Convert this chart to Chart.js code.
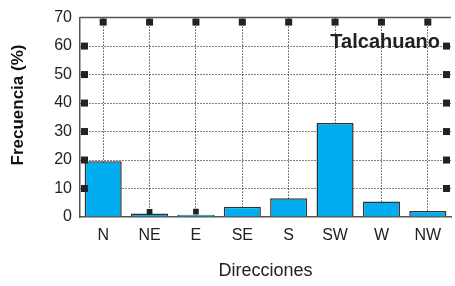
<!DOCTYPE html>
<html>
<head>
<meta charset="utf-8">
<script src="https://cdn.jsdelivr.net/npm/chart.js@4"></script>
<style>
  html, body { margin: 0; padding: 0; background: #fff; overflow: hidden; }
  #wrap { width: 455px; height: 286px; }
</style>
</head>
<body>
<div id="wrap"><canvas id="windChart"></canvas></div>
<script>
const directions = ['N', 'NE', 'E', 'SE', 'S', 'SW', 'W', 'NW'];
const frequency = [19.6, 1.2, 0.8, 3.6, 6.6, 33, 5.4, 2.1];
const topMarks = [null, 1.8, 1.9, null, null, null, null, null];
const yTicks = [0, 10, 20, 30, 40, 50, 60, 70];
const stationName = 'Talcahuano';
const yTitle = 'Frecuencia (%)';

const FONT = 'Liberation Sans, Arial, sans-serif';

// square markers on the frame, station label, y title
const framePlugin = {
    id: 'frame',
    afterDraw(chart) {
        const { ctx, chartArea: a, scales } = chart;
        ctx.save();
        ctx.strokeStyle = '#555';
        ctx.lineWidth = 1.5;
        ctx.beginPath();
        ctx.moveTo(a.left, a.top);
        ctx.lineTo(a.right, a.top);
        ctx.stroke();

        ctx.fillStyle = '#222';
        const s = 7;
        scales.x.ticks.forEach((t, i) => {
            const x = scales.x.getPixelForTick(i);
            ctx.fillRect(x - s / 2, a.top + 1, s, s);
        });
        yTicks.slice(1, -1).forEach(v => {
            const y = scales.y.getPixelForValue(v);
            ctx.fillRect(a.left + 1, y - s / 2, s, s);
            ctx.fillRect(a.right - s - 1, y - s / 2, s, s);
        });

        ctx.font = 'bold 20px ' + FONT;
        ctx.fillStyle = '#222';
        ctx.textAlign = 'right';
        ctx.textBaseline = 'alphabetic';
        ctx.fillText(stationName, a.right - 11, a.top + 30);

        ctx.translate(18, 105);
        ctx.rotate(-Math.PI / 2);
        ctx.textAlign = 'center';
        ctx.textBaseline = 'middle';
        ctx.font = 'bold 17px ' + FONT;
        ctx.fillStyle = '#111';
        ctx.fillText(yTitle, 0, 0);
        ctx.restore();
    }
};

const ctx = document.getElementById('windChart').getContext('2d');
const windChart = new Chart(ctx, {
    type: 'bar',
    data: {
        labels: directions,
        datasets: [{
            type: 'line',
            data: topMarks,
            showLine: false,
            pointStyle: 'rect',
            pointRadius: 4,
            backgroundColor: '#222',
            borderColor: '#222',
            borderWidth: 0
        }, {
            data: frequency,
            backgroundColor: '#00aeef',
            borderColor: '#333',
            borderWidth: 1.5,
            barPercentage: 0.8,
            categoryPercentage: 1
        }]
    },
    options: {
        responsive: true,
        maintainAspectRatio: false,
        animation: false,
        layout: { padding: { top: 15, right: 0, left: 0, bottom: 0 } },
        plugins: { legend: { display: false }, tooltip: { enabled: false } },
        scales: {
            x: {
                grid: {
                    offset: false,
                    color: '#000',
                    lineWidth: 1,
                    drawTicks: false
                },
                border: { display: true, color: '#555', width: 1.5, dash: [1, 2] },
                ticks: { color: '#222', font: { family: FONT, size: 16 }, padding: 9 },
                title: {
                    display: true,
                    text: 'Direcciones',
                    color: '#222',
                    font: { family: FONT, size: 18 },
                    padding: { top: 4, bottom: 4 }
                },
                afterFit(scale) { scale.height = 69; }
            },
            y: {
                min: 0,
                max: 70,
                ticks: {
                    stepSize: 10,
                    color: '#222',
                    font: { family: FONT, size: 16 },
                    padding: 8
                },
                grid: {
                    color: c => (c.tick && (c.tick.value === 0 || c.tick.value === 70)) ? 'rgba(0,0,0,0)' : '#000',
                    lineWidth: 1,
                    drawTicks: false
                },
                border: { display: true, color: '#555', width: 1.5, dash: [1, 2] },
                afterFit(scale) { scale.width = 80; }
            }
        }
    },
    plugins: [framePlugin]
});
</script>
</body>
</html>
